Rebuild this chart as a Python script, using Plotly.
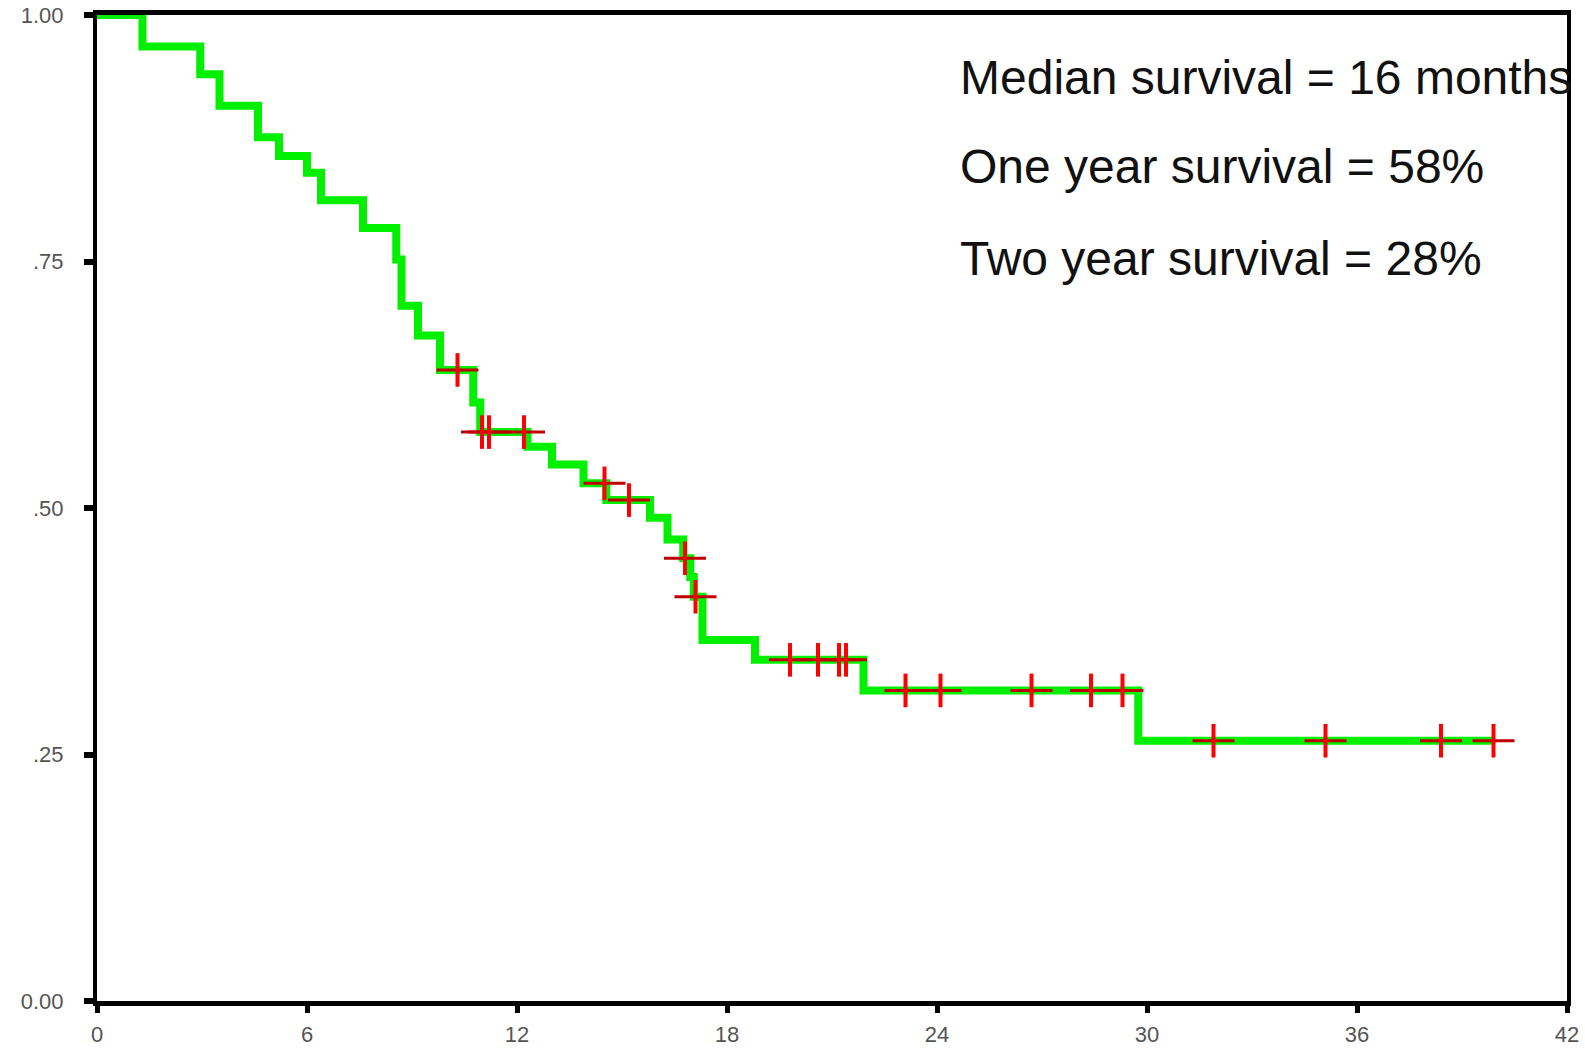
import numpy as np
import plotly.graph_objects as go

# Kaplan-Meier estimate: event times (months) and survival after each event
event_time = [0, 1.3, 2.95, 3.5, 4.6, 5.2, 6.0, 6.4, 7.6, 8.55, 8.7, 9.17, 9.8,
              10.75, 10.95, 12.3, 13.0, 13.9, 14.55, 15.8, 16.3, 16.75, 16.95,
              17.05, 17.3, 18.8, 21.9, 29.75, 39.9]
survival = [1.0, 0.968, 0.940, 0.908, 0.876, 0.857, 0.840, 0.812, 0.784, 0.752,
            0.705, 0.675, 0.640, 0.607, 0.577, 0.562, 0.544, 0.525, 0.508, 0.490,
            0.468, 0.449, 0.430, 0.410, 0.366, 0.346, 0.315, 0.264, 0.264]

# censored observations (months)
censor_time = [10.3, 11.0, 11.2, 12.2, 14.5, 15.2, 16.8, 17.1, 19.8, 20.6, 21.2,
               21.4, 23.1, 24.1, 26.7, 28.4, 29.3, 31.9, 35.1, 38.4, 39.9]

x_ticks = [0, 6, 12, 18, 24, 30, 36, 42]
x_tick_text = ["0", "6", "12", "18", "24", "30", "36", "42"]
y_ticks = [0, 0.25, 0.5, 0.75, 1.0]
y_tick_text = ["0.00", ".25", ".50", ".75", "1.00"]

summary_lines = [
    "Median survival = 16 months",
    "One year survival = 58%",
    "Two year survival = 28%",
]

# survival level at each censoring time
et = np.array(event_time)
sv = np.array(survival)
censor_level = sv[np.searchsorted(et, np.array(censor_time), side="right") - 1]

fig = go.Figure()

fig.add_trace(go.Scatter(
    x=event_time, y=survival, mode="lines",
    line=dict(color="#00f000", width=8, shape="hv"),
    hoverinfo="skip", showlegend=False,
))

# censor ticks: a wide horizontal bar and a shorter vertical bar
fig.add_trace(go.Scatter(
    x=censor_time, y=censor_level, mode="markers",
    marker=dict(symbol="line-ew", size=30, color="#e00000",
                line=dict(color="#c00000", width=3)),
    hoverinfo="skip", showlegend=False,
))
fig.add_trace(go.Scatter(
    x=censor_time, y=censor_level, mode="markers",
    marker=dict(symbol="line-ns", size=24, color="#ff0000",
                line=dict(color="#ff0000", width=4)),
    hoverinfo="skip", showlegend=False,
))

label_y = [0.937, 0.846, 0.753]
for txt, yy in zip(summary_lines, label_y):
    fig.add_annotation(
        x=0.5857, y=yy, xref="paper", yref="paper",
        text=txt, showarrow=False, xanchor="left", yanchor="middle",
        font=dict(family="Liberation Sans, Arial", size=48, color="#111111"),
    )

tick_font = dict(family="Liberation Sans, Arial", size=22, color="#555555")

fig.update_xaxes(
    range=[0, 42], tickvals=x_ticks, ticktext=x_tick_text,
    showline=True, linecolor="black", linewidth=5, mirror=True,
    ticks="outside", ticklen=7, tickwidth=5, tickcolor="black",
    showgrid=False, zeroline=False, tickfont=tick_font, ticklabelstandoff=3,
    automargin=False,
)
fig.update_yaxes(
    range=[0, 1], tickvals=y_ticks, ticktext=y_tick_text,
    showline=True, linecolor="black", linewidth=4, mirror=True,
    ticks="outside", ticklen=9, tickwidth=6, tickcolor="black",
    showgrid=False, zeroline=False, tickfont=tick_font, ticklabelstandoff=16,
    automargin=False,
)

fig.update_layout(
    width=1585, height=1049,
    margin=dict(l=97, r=18, t=15, b=48),
    plot_bgcolor="white", paper_bgcolor="white",
    showlegend=False,
)

fig.write_html("out.html", include_plotlyjs=True, config={"displayModeBar": False})
